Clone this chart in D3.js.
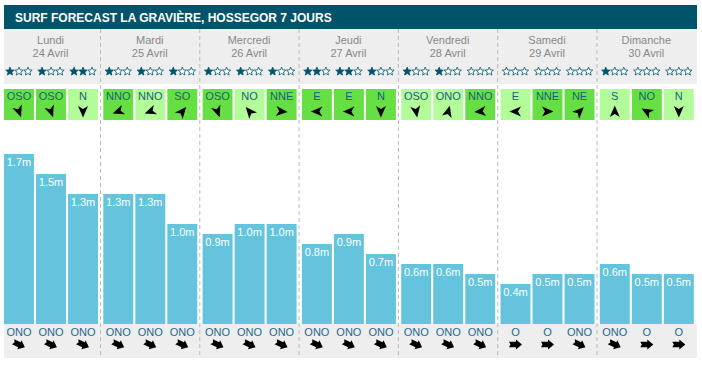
<!DOCTYPE html>
<html>
<head>
<meta charset="utf-8">
<script src="https://cdn.jsdelivr.net/npm/d3@7"></script>
<style>
  html, body { margin: 0; padding: 0; background: #fff; }
  svg { display: block; font-family: "Liberation Sans", Arial, sans-serif; }
</style>
</head>
<body>
<svg id="chart" width="702" height="366"></svg>
<script>
const title = "SURF FORECAST LA GRAVIÈRE, HOSSEGOR 7 JOURS";
const days = ["Lundi", "Mardi", "Mercredi", "Jeudi", "Vendredi", "Samedi", "Dimanche"];
const dates = ["24 Avril", "25 Avril", "26 Avril", "27 Avril", "28 Avril", "29 Avril", "30 Avril"];
const waveHeights = [1.7, 1.5, 1.3, 1.3, 1.3, 1.0, 0.9, 1.0, 1.0, 0.8, 0.9, 0.7, 0.6, 0.6, 0.5, 0.4, 0.5, 0.5, 0.6, 0.5, 0.5];
const stars = [1, 1, 2, 1, 1, 1, 1, 1, 1, 2, 2, 1, 1, 1, 0, 0, 0, 0, 1, 0, 0];
const windDir = ["OSO", "OSO", "N", "NNO", "NNO", "SO", "OSO", "NO", "NNE", "E", "E", "N", "OSO", "ONO", "NNO", "E", "NNE", "NE", "S", "NO", "N"];
const windStrong = [1, 1, 0, 1, 0, 1, 1, 0, 1, 1, 1, 1, 0, 0, 1, 0, 1, 1, 0, 1, 0];
const windArrow = [160, 160, 180, 250, 250, 40, 160, 320, 95, 270, 270, 180, 170, 15, 265, 270, 90, 45, 0, 300, 180];
const swellDir = ["ONO", "ONO", "ONO", "ONO", "ONO", "ONO", "ONO", "ONO", "ONO", "ONO", "ONO", "ONO", "ONO", "ONO", "ONO", "O", "O", "ONO", "ONO", "O", "O"];
const swellArrow = [115, 115, 115, 115, 115, 115, 115, 115, 115, 115, 115, 115, 115, 115, 115, 90, 90, 115, 115, 90, 90];

const svg = d3.select("#chart");
const left = 4, right = 697;
const dayStep = 99.3;

const xDay = d3.scaleBand().domain(d3.range(7)).range([left, left + 7 * dayStep]).paddingInner(0).paddingOuter(0);
const xSub = d3.scaleBand().domain([0, 1, 2]).range([0, 94]).paddingInner(0.065);
const colX = i => xDay(Math.floor(i / 3)) + xSub(i % 3);
const bw = xSub.bandwidth();
const y = d3.scaleLinear().domain([0, 1.7]).range([324, 154]);

const cells = d3.range(21).map(i => ({
  i, h: waveHeights[i], s: stars[i], wd: windDir[i], ws: windStrong[i], wa: windArrow[i],
  sd: swellDir[i], sa: swellArrow[i]
}));

// title bar
svg.append("rect").attr("x", left).attr("y", 5).attr("width", right - left).attr("height", 24).attr("fill", "#005369");
svg.append("text").attr("x", 15).attr("y", 21.5).attr("fill", "#fff")
  .attr("font-weight", "bold").attr("font-size", 12).text(title);

// header band
svg.append("rect").attr("x", left).attr("y", 29).attr("width", right - left).attr("height", 55).attr("fill", "#eeeeee");
// bottom band
svg.append("rect").attr("x", left).attr("y", 324).attr("width", right - left).attr("height", 34).attr("fill", "#eeeeee");

// separators
svg.append("g").selectAll("line").data(d3.range(6)).join("line")
  .attr("x1", d => xDay(d) + 96.5).attr("x2", d => xDay(d) + 96.5)
  .attr("y1", 29).attr("y2", 358)
  .attr("stroke", "#bbbbbb").attr("stroke-width", 1).attr("stroke-dasharray", "4,3");

// day labels
const dg = svg.append("g").selectAll("g").data(d3.range(7)).join("g");
dg.append("text").attr("x", d => xDay(d) + 46.5).attr("y", 44).attr("text-anchor", "middle")
  .attr("font-size", 11).attr("fill", "#888").text(d => days[d]);
dg.append("text").attr("x", d => xDay(d) + 46.5).attr("y", 56.5).attr("text-anchor", "middle")
  .attr("font-size", 11).attr("fill", "#888").text(d => dates[d]);

// stars
function starPath(r) {
  const pts = [];
  for (let k = 0; k < 10; k++) {
    const a = -Math.PI / 2 + k * Math.PI / 5;
    const rr = k % 2 === 0 ? r : r * 0.45;
    pts.push([rr * Math.cos(a), rr * Math.sin(a)]);
  }
  return "M" + pts.map(p => p.join(",")).join("L") + "Z";
}
const sp = starPath(4.4);
const starG = svg.append("g");
cells.forEach(c => {
  for (let k = 0; k < 3; k++) {
    starG.append("path").attr("d", sp)
      .attr("transform", `translate(${colX(c.i) + bw / 2 + (k - 1) * 9},${71.5})`)
      .attr("fill", k < c.s ? "#005369" : "#fff")
      .attr("stroke", "#005369").attr("stroke-width", 0.8).attr("stroke-linejoin", "round");
  }
});

// wind boxes
const wg = svg.append("g").selectAll("g").data(cells).join("g");
wg.append("rect").attr("x", d => colX(d.i)).attr("y", 89).attr("width", bw).attr("height", 31)
  .attr("fill", d => d.ws ? "#66df44" : "#b3fc9a");
wg.append("text").attr("x", d => colX(d.i) + bw / 2).attr("y", 100).attr("text-anchor", "middle")
  .attr("font-size", 11).attr("fill", "#1b5f7a").text(d => d.wd);
wg.append("path").attr("d", "M0,-6L5,5.5L0,2.5L-5,5.5Z").attr("fill", "#000")
  .attr("transform", d => `translate(${colX(d.i) + bw / 2},111.5) rotate(${d.wa})`);

// bars
const bg = svg.append("g").selectAll("g").data(cells).join("g");
bg.append("rect").attr("x", d => colX(d.i)).attr("y", d => y(d.h)).attr("width", bw)
  .attr("height", d => y(0) - y(d.h)).attr("fill", "#64c4de");
bg.append("text").attr("x", d => colX(d.i) + bw / 2).attr("y", d => y(d.h) + 12).attr("text-anchor", "middle")
  .attr("font-size", 11).attr("fill", "#fff").text(d => d.h.toFixed(1) + "m");

// swell labels + arrows
const sg = svg.append("g").selectAll("g").data(cells).join("g");
sg.append("text").attr("x", d => colX(d.i) + bw / 2).attr("y", 336).attr("text-anchor", "middle")
  .attr("font-size", 11).attr("fill", "#1b6a90").text(d => d.sd);
sg.append("path").attr("d", "M-6.5,-2.8L0.5,-2.8L0.5,-5L6.5,0L0.5,5L0.5,2.8L-6.5,2.8L-5,0Z").attr("fill", "#000")
  .attr("transform", d => `translate(${colX(d.i) + bw / 2},344.5) rotate(${d.sa - 90})`);
</script>
</body>
</html>
